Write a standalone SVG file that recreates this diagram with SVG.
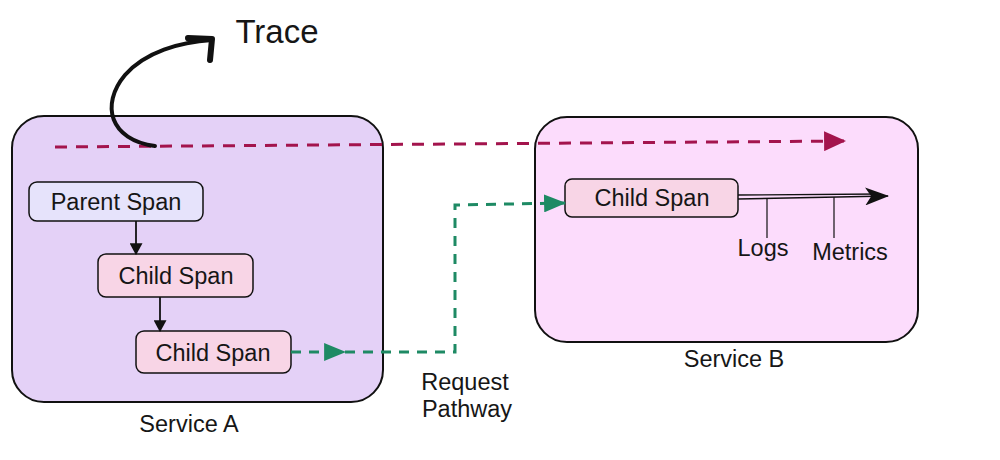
<svg xmlns="http://www.w3.org/2000/svg" width="1000" height="460" viewBox="0 0 1000 460">
<style>
text{font-family:"Liberation Sans",Arial,sans-serif;fill:#161616;text-anchor:middle}
.lbl{font-size:23.5px}
.svc{stroke:#111;stroke-width:2}
.span{stroke:#111;stroke-width:1.5}
</style>
<defs>
<marker id="ab" viewBox="0 0 10 10" refX="9" refY="5" markerWidth="12" markerHeight="13" markerUnits="userSpaceOnUse" orient="auto" preserveAspectRatio="none"><path d="M0,0 L10,5 L0,10 z" fill="#111"/></marker>
<marker id="am" viewBox="0 0 10 10" refX="9.5" refY="5" markerWidth="22" markerHeight="20" markerUnits="userSpaceOnUse" orient="auto" preserveAspectRatio="none"><path d="M0,0 L10,5 L0,10 z" fill="#a3144d"/></marker>
<marker id="ag" viewBox="0 0 10 10" refX="9.5" refY="5" markerWidth="22" markerHeight="18" markerUnits="userSpaceOnUse" orient="auto" preserveAspectRatio="none"><path d="M0,0 L10,5 L0,10 z" fill="#1e8a64"/></marker>
<marker id="ak" viewBox="0 0 10 10" refX="9.5" refY="5" markerWidth="24" markerHeight="18" markerUnits="userSpaceOnUse" orient="auto" preserveAspectRatio="none"><path d="M0,0 L10,5 L0,10 L2.5,5 z" fill="#111"/></marker>
</defs>
<g id="serviceA">
<rect class="svc" x="12" y="116" width="371" height="286" rx="32" fill="#e4d1f7"/>
<text class="lbl" x="189" y="432">Service A</text>
</g>
<g id="serviceB">
<rect class="svc" x="535" y="117" width="383" height="225" rx="32" fill="#fcdcfc"/>
<text class="lbl" x="734" y="367">Service B</text>
</g>
<g id="parentSpan">
<rect class="span" x="29" y="182" width="174" height="39" rx="8" fill="#e6e3fb"/>
<text class="lbl" x="116" y="210">Parent Span</text>
</g>
<g id="childSpanA1">
<rect class="span" x="98" y="254" width="155" height="43" rx="8" fill="#f8d5e6"/>
<text class="lbl" x="176" y="284">Child Span</text>
</g>
<g id="childSpanA2">
<rect class="span" x="136" y="331" width="155" height="42" rx="8" fill="#f8d5e6"/>
<text class="lbl" x="213" y="361">Child Span</text>
</g>
<g id="childSpanB">
<rect class="span" x="565" y="179" width="173" height="38" rx="7" fill="#f8d5e6"/>
<text class="lbl" x="652" y="206">Child Span</text>
</g>
<g id="trace">
<text x="277" y="43" style="font-size:33px">Trace</text>
</g>
<g id="logs"><text class="lbl" x="763" y="256">Logs</text></g>
<g id="metrics"><text class="lbl" x="850" y="260">Metrics</text></g>
<g id="requestPathway">
<text class="lbl" x="465" y="390">Request</text>
<text class="lbl" x="467" y="417">Pathway</text>
</g>
<g id="connectors" fill="none">
<path d="M55,147 L845,141" stroke="#a3144d" stroke-width="3" stroke-dasharray="12,9" marker-end="url(#am)"/>
<path d="M155,146 C110,140 100,105 125,75 C145,52 180,42 212,40" stroke="#111" stroke-width="4" stroke-linecap="round"/>
<path d="M188,38 L212,39 L210,60" stroke="#111" stroke-width="6" stroke-linecap="round" stroke-linejoin="round"/>
<path d="M136,221 L136,254" stroke="#111" stroke-width="1.8" marker-end="url(#ab)"/>
<path d="M160,297 L160,331" stroke="#111" stroke-width="1.8" marker-end="url(#ab)"/>
<path d="M291,352 L345,352" stroke="#1e8a64" stroke-width="3" stroke-dasharray="10,8" marker-end="url(#ag)"/>
<path d="M345,352 L455,352 L455,205 L565,203" stroke="#1e8a64" stroke-width="3" stroke-dasharray="10,8" marker-end="url(#ag)"/>
<path d="M738,195 L880,194" stroke="#111" stroke-width="1.3"/>
<path d="M738,199 L888,196" stroke="#111" stroke-width="1.3" marker-end="url(#ak)"/>
<path d="M767,198 L767,238 M834,197 L834,238" stroke="#111" stroke-width="1.2"/>
</g>
</svg>
